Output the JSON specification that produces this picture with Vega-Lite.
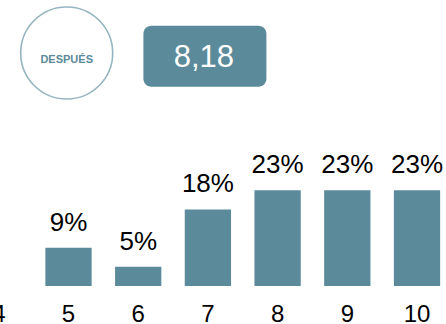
{
  "$schema": "https://vega.github.io/schema/vega-lite/v6.json",
  "width": 446,
  "height": 324,
  "autosize": {"type": "none"},
  "padding": 0,
  "background": "white",
  "config": {"view": {"stroke": null}},
  "data": {"values": [
    {"score": 5, "pct": 0.0909},
    {"score": 6, "pct": 0.0455},
    {"score": 7, "pct": 0.1818},
    {"score": 8, "pct": 0.2273},
    {"score": 9, "pct": 0.2273},
    {"score": 10, "pct": 0.2273}
  ]},
  "layer": [
    {
      "mark": {"type": "bar", "color": "#5B8A9A"},
      "encoding": {
        "x": {"field": "score", "type": "ordinal",
          "scale": {"domain": [4, 5, 6, 7, 8, 9, 10], "range": [-36.05, 451.85], "paddingInner": 0.336, "paddingOuter": 0.168},
          "axis": {"title": null, "domain": false, "ticks": false, "labelAngle": 0, "labelFont": "Liberation Sans", "labelFontSize": 24, "labelColor": "#000000", "labelPadding": 16.5, "offset": -38, "labelOverlap": false}},
        "y": {"field": "pct", "type": "quantitative",
          "scale": {"domain": [-0.0902, 0.6789], "nice": false, "zero": false},
          "axis": null}
      }
    },
    {
      "mark": {"type": "text", "font": "Liberation Sans", "fontSize": 26, "color": "#000000", "baseline": "alphabetic", "dy": -17},
      "encoding": {
        "x": {"field": "score", "type": "ordinal"},
        "y": {"field": "pct", "type": "quantitative"},
        "text": {"field": "pct", "type": "quantitative", "format": ".0%"}
      }
    },
    {
      "data": {"values": [{"tag": "DESPUÉS", "media": "8,18"}]},
      "layer": [
        {
          "mark": {"type": "point", "shape": "circle", "size": 8464, "filled": false, "stroke": "#6A97A6", "strokeWidth": 1.6, "xOffset": -1.8},
          "encoding": {
            "x": {"datum": 5, "type": "ordinal"},
            "y": {"datum": 0.5531, "type": "quantitative"}
          }
        },
        {
          "mark": {"type": "text", "font": "Liberation Sans", "fontWeight": "bold", "fontSize": 11, "color": "#5B8A9A", "baseline": "alphabetic", "dx": -1.8},
          "encoding": {
            "x": {"datum": 5, "type": "ordinal"},
            "y": {"datum": 0.5298, "type": "quantitative"},
            "text": {"field": "tag"}
          }
        },
        {
          "mark": {"type": "bar", "color": "#5B8A9A", "width": 123, "cornerRadius": 8, "xOffset": -3},
          "encoding": {
            "x": {"datum": 7, "type": "ordinal"},
            "y": {"datum": 0.4731, "type": "quantitative"},
            "y2": {"datum": 0.6178}
          }
        },
        {
          "mark": {"type": "text", "font": "Liberation Sans", "fontSize": 31, "color": "#FFFFFF", "baseline": "alphabetic", "dx": -4},
          "encoding": {
            "x": {"datum": 7, "type": "ordinal"},
            "y": {"datum": 0.5206, "type": "quantitative"},
            "text": {"field": "media"}
          }
        }
      ]
    }
  ]
}
